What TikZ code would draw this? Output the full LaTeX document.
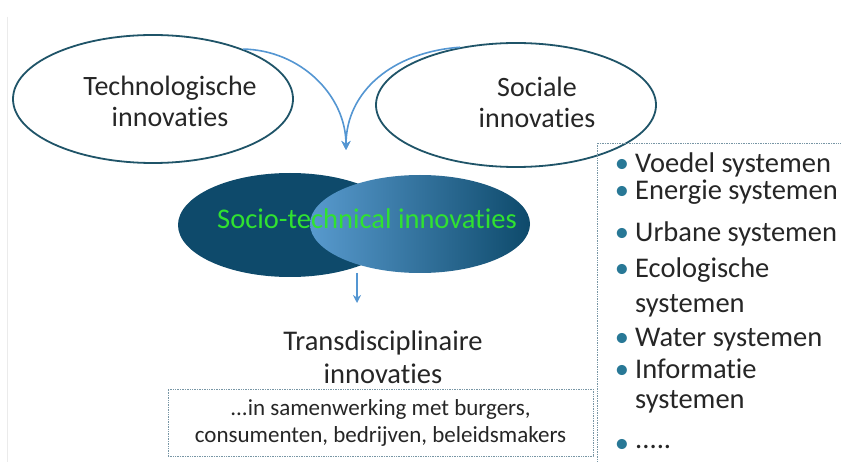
\documentclass[tikz,border=0pt]{standalone}
\usepackage{fontspec}
\setmainfont{Carlito}[Ligatures={NoCommon,NoContextual}]
\usetikzlibrary{shapes.geometric,arrows.meta}
\definecolor{rim}{RGB}{31,84,104}
\definecolor{flowblue}{RGB}{84,150,210}
\definecolor{venndark}{RGB}{14,74,107}
\definecolor{vennlight}{RGB}{88,154,206}
\definecolor{techgreen}{RGB}{48,226,48}
\definecolor{boxline}{RGB}{120,150,165}
\definecolor{dotblue}{RGB}{40,120,150}
\tikzset{
  bubble/.style={ellipse, draw=rim, line width=1.8pt, inner sep=0pt},
  flow/.style={draw=flowblue, line width=1.6pt, -{Stealth[length=9pt,width=9pt]}},
  dotbox/.style={draw=boxline, densely dotted, line width=0.7pt},
  bigtext/.style={font=\fontsize{28}{31}\selectfont, align=center, text=black!85},
  listtext/.style={font=\fontsize{28.5}{33}\selectfont, anchor=base west, inner sep=0pt, text=black!85}
}
\begin{document}
\begin{tikzpicture}[x=1pt,y=-1pt]
\useasboundingbox (0,0) rectangle (841,462);
\fill[white] (0,0) rectangle (841,462);
\draw[black!8] (7,17) -- (7,462);
% the two starting ovals
\node[bubble, minimum width=280pt, minimum height=128pt] (tech) at (153,99) {};
\node[bubble, minimum width=280pt, minimum height=124pt] (soc) at (516,105) {};
\node[bigtext] (techtxt) at (170,101) {Technologische\\innovaties};
\node[bigtext] (soctxt) at (537,102) {Sociale\\innovaties};
% arrows into the overlap
\coordinate (meet) at (346,150);
\draw[flow] (tech.29) .. controls (300,50) and (346,95) .. (meet);
\draw[flow] (soc.134) .. controls (392,52) and (346,92) .. (meet);
% overlapping ovals
\fill[venndark] (290,225) ellipse [x radius=112, y radius=52];
\shade[left color=vennlight, middle color=venndark, right color=venndark]
  (420,224) ellipse [x radius=110, y radius=49];
\node[font=\fontsize{28.5}{33}\selectfont, text=techgreen] (socio) at (367,219) {Socio-technical innovaties};
\coordinate (vennbot) at (357,273);
\coordinate (transtop) at (357,303);
\draw[flow, line width=1.2pt, -{Stealth[length=8pt,width=8pt]}] (vennbot) -- (transtop);
\node[bigtext, font=\fontsize{28.5}{33}\selectfont] (trans) at (383,357) {Transdisciplinaire\\innovaties};
\node[dotbox, minimum width=425pt, minimum height=67pt, align=center,
  font=\fontsize{23}{27}\selectfont, text=black!85] (partners) at (380.5,422.5)
  {...in samenwerking met burgers,\\consumenten, bedrijven, beleidsmakers};
% list of systems
\draw[dotbox] (597,470) -- (597,143) -- (850,143);
\foreach \yy/\txt [count=\i] in {173/Voedel systemen, 200/Energie systemen, 242/Urbane systemen,
  278/Ecologische, 347/Water systemen, 378/Informatie, 452/} {
  \node[listtext, text=dotblue, anchor=base] (dot\i) at (622,\yy) {•};
  \node[listtext] (item\i) at (635,\yy) {\txt};
}
\node[listtext] (item4b) at (635,313) {systemen};
\node[listtext] (item6b) at (635,408) {systemen};
\node[listtext] (more) at (635,448) {.....};
\end{tikzpicture}
\end{document}
